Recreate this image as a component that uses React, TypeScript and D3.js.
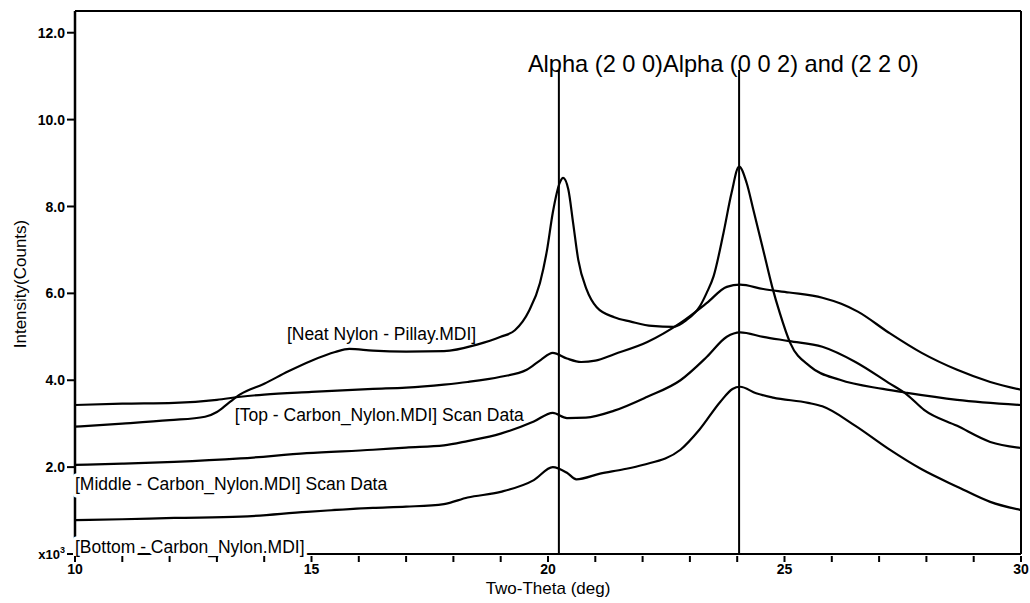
import React from "react";
import * as d3 from "d3";

// Two-Theta (deg) / Intensity (x10^3 counts)
const neatX = [10, 11, 12, 12.75, 13.0, 13.25, 13.5, 14.0, 14.5, 15.0, 15.5, 15.8, 16.3, 17.0, 17.8, 18.5, 19.0, 19.3, 19.6, 19.83, 19.98, 20.1, 20.25, 20.32, 20.43, 20.53, 20.64, 20.82, 21.03, 21.4, 21.75, 22.2, 22.65, 22.93, 23.21, 23.35, 23.5, 23.71, 23.88, 24.04, 24.2, 24.34, 24.55, 24.74, 24.9, 25.12, 25.54, 26.17, 27.08, 27.59, 28.65, 30];
const neatY = [2.93, 3.0, 3.08, 3.16, 3.27, 3.48, 3.68, 3.92, 4.2, 4.45, 4.65, 4.72, 4.68, 4.66, 4.67, 4.82, 5.0, 5.15, 5.6, 6.24, 7.0, 7.85, 8.55, 8.66, 8.39, 7.63, 6.77, 6.08, 5.68, 5.45, 5.35, 5.25, 5.23, 5.39, 5.7, 6.0, 6.39, 7.39, 8.31, 8.92, 8.54, 7.93, 7.0, 6.15, 5.55, 4.86, 4.32, 4.01, 3.8, 3.71, 3.55, 3.43];

const topX = [10, 11, 12.1, 13, 13.5, 14, 15, 16.3, 17, 17.8, 18.3, 19, 19.55, 19.85, 20.1, 20.4, 20.7, 21.0, 21.4, 22.1, 22.8, 23.36, 23.78, 24.06, 24.55, 25.1, 25.8, 26.2, 26.55, 27.2, 27.9, 28.65, 29.35, 30];
const topY = [3.43, 3.46, 3.48, 3.55, 3.62, 3.67, 3.73, 3.8, 3.83, 3.9, 3.96, 4.08, 4.24, 4.47, 4.63, 4.5, 4.42, 4.45, 4.6, 4.88, 5.32, 5.78, 6.15, 6.2, 6.1, 6.02, 5.9, 5.76, 5.58, 5.1, 4.63, 4.24, 3.96, 3.78];

const midX = [10, 11, 12.1, 13.5, 14.9, 16.3, 17.0, 17.8, 18.3, 19.0, 19.7, 20.1, 20.4, 20.8, 21.4, 22.1, 22.8, 23.36, 23.78, 24.06, 24.55, 25.1, 25.8, 26.5, 27.2, 27.6, 27.95, 28.65, 29.35, 30];
const midY = [2.05, 2.08, 2.12, 2.2, 2.32, 2.4, 2.45, 2.5, 2.6, 2.77, 3.05, 3.25, 3.13, 3.14, 3.3, 3.62, 4.0, 4.54, 5.0, 5.1, 5.0, 4.9, 4.77, 4.42, 3.94, 3.66, 3.32, 2.95, 2.58, 2.44];

const botX = [10, 11, 12.1, 13.5, 14.9, 16.3, 17.0, 17.8, 18.3, 19.0, 19.7, 20.1, 20.4, 20.6, 21.1, 21.6, 22.0, 22.8, 23.2, 23.64, 23.9, 24.06, 24.4, 24.76, 25.5, 25.8, 26.5, 27.2, 27.9, 28.65, 29.35, 30];
const botY = [0.78, 0.8, 0.83, 0.86, 0.97, 1.06, 1.09, 1.15, 1.3, 1.43, 1.7, 2.0, 1.87, 1.72, 1.85, 1.95, 2.05, 2.4, 2.86, 3.5, 3.8, 3.85, 3.7, 3.6, 3.48, 3.4, 2.95, 2.42, 1.95, 1.55, 1.2, 1.01];

const seriesNames = [
  "[Neat Nylon - Pillay.MDI]",
  "[Top - Carbon_Nylon.MDI] Scan Data",
  "[Middle - Carbon_Nylon.MDI] Scan Data",
  "[Bottom - Carbon_Nylon.MDI]",
];
// label anchor in data units (x deg, y counts x10^3)
const labelX = [14.48, 13.38, 10, 10];
const labelY = [4.93, 3.06, 1.47, 0.02];

const peakPositions = [20.23, 24.04];
const peakTitle = ["Alpha (2 0 0)", "Alpha (0 0 2) and (2 2 0)"];

const xTicks = [10, 11, 12, 13, 14, 15, 16, 17, 18, 19, 20, 21, 22, 23, 24, 25, 26, 27, 28, 29, 30];
const xTickLabels = [10, 15, 20, 25, 30];
const yTickValues = [2, 4, 6, 8, 10, 12];

const FONT = "'Liberation Sans', Arial, sans-serif";

export default function App() {
  const x = d3.scaleLinear().domain([10, 30]).range([75, 1021]);
  const y = d3.scaleLinear().domain([0, 12.5]).range([554, 11]);

  const series = [
    { xs: neatX, ys: neatY },
    { xs: topX, ys: topY },
    { xs: midX, ys: midY },
    { xs: botX, ys: botY },
  ];
  const line = d3
    .line<[number, number]>()
    .x((d) => x(d[0]))
    .y((d) => y(d[1]))
    .curve(d3.curveMonotoneX);

  const labelFont = 17.5;

  return (
    <svg
      width={1030}
      height={603}
      style={{ position: "absolute", left: 0, top: 0, background: "#fff" }}
      fontFamily={FONT}
    >
      <rect x={0} y={0} width={1030} height={603} fill="#fff" />
      {/* frame */}
      <line x1={x(10)} x2={x(30)} y1={y(12.5)} y2={y(12.5)} stroke="#000" strokeWidth={2} />
      <line x1={x(30)} x2={x(30)} y1={y(12.5)} y2={y(0)} stroke="#000" strokeWidth={2} />
      <line x1={x(10)} x2={x(30)} y1={y(0)} y2={y(0)} stroke="#000" strokeWidth={2.2} />
      <line x1={x(10)} x2={x(10)} y1={y(12.5)} y2={y(0)} stroke="#000" strokeWidth={2.5} />

      {/* curves */}
      {series.map((s, i) => (
        <path
          key={"s" + i}
          d={line(s.xs.map((v, j) => [v, s.ys[j]] as [number, number])) || ""}
          fill="none"
          stroke="#000"
          strokeWidth={2.2}
          strokeLinejoin="round"
        />
      ))}

      {/* peak markers */}
      {peakPositions.map((p, i) => (
        <line key={"pk" + i} x1={x(p)} x2={x(p)} y1={70} y2={y(0)} stroke="#000" strokeWidth={2} />
      ))}
      <text x={x(peakPositions[0]) - 31} y={72} fontSize={23.6}>
        <tspan>{peakTitle[0]}</tspan>
        <tspan>{peakTitle[1]}</tspan>
      </text>

      {/* series labels; those sitting on the axes get a white background */}
      {seriesNames.map((n, i) => (
        <text
          key={"lab" + i}
          x={x(labelX[i])}
          y={y(labelY[i])}
          fontSize={labelFont}
          stroke={labelX[i] === 10 ? "#fff" : "none"}
          strokeWidth={7}
          strokeLinejoin="round"
          style={{ paintOrder: "stroke" } as any}
        >
          {n}
        </text>
      ))}

      {/* x ticks */}
      {xTicks.map((t) => (
        <line key={"xt" + t} x1={x(t)} x2={x(t)} y1={y(0) + 2} y2={y(0) + 8} stroke="#000" strokeWidth={2} />
      ))}
      {xTickLabels.map((t) => (
        <text key={"xl" + t} x={x(t)} y={574} textAnchor="middle" fontSize={14} fontWeight="bold">
          {t}
        </text>
      ))}
      <text x={(x(10) + x(30)) / 2} y={594} textAnchor="middle" fontSize={17}>
        Two-Theta (deg)
      </text>

      {/* y ticks */}
      {yTickValues.map((t) => (
        <g key={"yt" + t}>
          <line x1={x(10) - 8} x2={x(10)} y1={y(t)} y2={y(t)} stroke="#000" strokeWidth={2} />
          <text x={x(10) - 10} y={y(t)} dy="0.36em" textAnchor="end" fontSize={14} fontWeight="bold">
            {t.toFixed(1)}
          </text>
        </g>
      ))}
      <line x1={x(10) - 8} x2={x(10) - 2} y1={y(0)} y2={y(0)} stroke="#000" strokeWidth={2} />
      <text x={x(10) - 10} y={y(0)} dy="0.36em" textAnchor="end" fontSize={13} fontWeight="bold">
        x10<tspan dy="-6" fontSize={9}>3</tspan>
      </text>
      <text
        transform={`translate(${26},${284}) rotate(-90)`}
        textAnchor="middle"
        fontSize={17}
      >
        Intensity(Counts)
      </text>
    </svg>
  );
}
